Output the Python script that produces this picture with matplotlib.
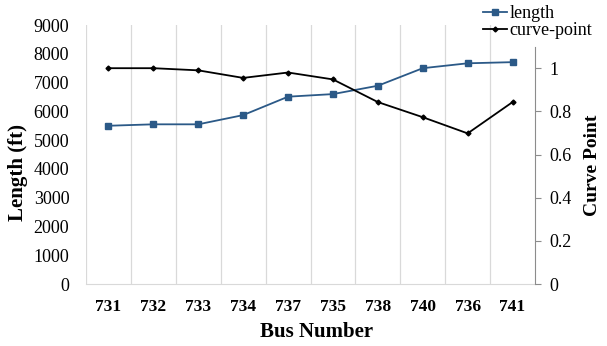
import matplotlib.pyplot as plt
import numpy as np

plt.rcParams['font.family'] = ['Liberation Serif', 'DejaVu Serif']

# data
bus_numbers = ['731', '732', '733', '734', '737', '735', '738', '740', '736', '741']
length_ft = [5500, 5550, 5550, 5870, 6510, 6600, 6890, 7500, 7670, 7710]
curve_point = [1.0, 1.0, 0.99, 0.955, 0.98, 0.948, 0.843, 0.773, 0.698, 0.843]

blue = '#2B5987'
grid_c = '#d9d9d9'
axis_c = '#8c8c8c'

fig = plt.figure(figsize=(6.07, 3.46), dpi=100)
ax1 = fig.add_axes([0.1417, 0.179, 0.7397, 0.7487])
ax2 = ax1.twinx()

x = np.arange(len(bus_numbers))

# left axis: length
l1, = ax1.plot(x, length_ft, '-s', color=blue, markersize=4.5, linewidth=1.3, label='length')
ax1.set_xlim(-0.5, len(bus_numbers) - 0.5)
ax1.set_ylim(0, 9000)
ax1.set_yticks(np.arange(0, 9001, 1000))
ax1.set_xticks(x)
ax1.set_xticklabels(bus_numbers, fontweight='bold', fontsize=12.5)
ax1.tick_params(axis='y', length=0, labelsize=13, pad=12)
ax1.tick_params(axis='x', length=0, pad=11)
for b in np.arange(-0.5, len(bus_numbers) - 0.5, 1.0):
    ax1.axvline(b, color=grid_c, linewidth=0.9, zorder=0)
for s in ['top', 'right', 'left']:
    ax1.spines[s].set_visible(False)
ax1.spines['bottom'].set_color(grid_c)
ax1.set_xlabel('Bus Number', fontweight='bold', fontsize=15)
ax1.set_ylabel('Length (ft)', fontweight='bold', fontsize=15)
ax1.xaxis.set_label_coords(0.514, -0.147)
ax1.yaxis.set_label_coords(-0.13, 0.43)

# right axis: curve point
l2, = ax2.plot(x, curve_point, '-D', color='black', markersize=2.5, linewidth=1.3, label='curve-point')
ax2.set_ylim(0, 1.2)
ax2.set_yticks([0, 0.2, 0.4, 0.6, 0.8, 1.0])
ax2.set_yticklabels(['0', '0.2', '0.4', '0.6', '0.8', '1'])
ax2.tick_params(axis='y', direction='out', length=4.5, color=axis_c, labelsize=13, pad=6)
for s in ['top', 'left', 'bottom']:
    ax2.spines[s].set_visible(False)
ax2.spines['right'].set_color(axis_c)
ax2.spines['right'].set_bounds(0, 1.1)
ax2.set_ylabel('Curve Point', fontweight='bold', fontsize=14)
ax2.yaxis.set_label_coords(1.11, 0.46)

fig.legend(handles=[l1, l2], loc='upper left', bbox_to_anchor=(0.7957, 0.985),
           frameon=False, fontsize=13, handlelength=1.35, handletextpad=0.1,
           labelspacing=0.0, borderaxespad=0, borderpad=0)

fig.savefig('out.png', dpi=100)
plt.close(fig)
